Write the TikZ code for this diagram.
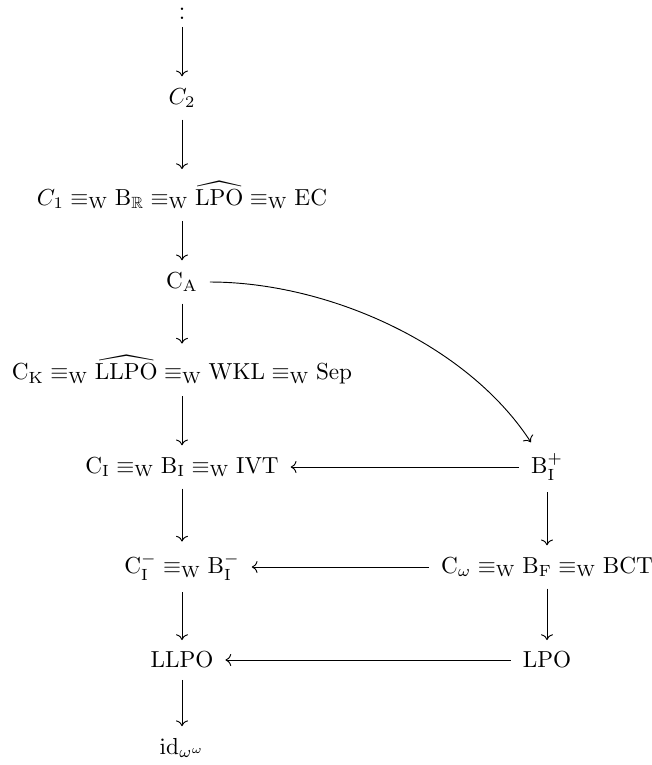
\documentclass[tikz,border=0pt]{standalone}
\usepackage{amssymb}
\usetikzlibrary{arrows.meta}
\newcommand{\eqW}{\equiv_{\mathrm{W}}}
\begin{document}
\begin{tikzpicture}[x=0.4314pt,y=-0.4314pt,
  lbl/.style={inner sep=3pt},
  arr/.style={-{Computer Modern Rightarrow},line width=0.4pt,shorten >=2pt,shorten <=2pt}]
\useasboundingbox (0,0) rectangle (652,765);
\node[lbl,inner sep=1pt] (dots) at (182,2) {$\vdots$};
\node[lbl] (c2) at (182,98) {$C_2$};
\node[lbl] (c1) at (182,195) {$C_1 \eqW \mathrm{B}_{\mathbb{R}} \eqW \widehat{\mathrm{LPO}} \eqW \mathrm{EC}$};
\node[lbl] (ca) at (182,282) {$\mathrm{C}_{\mathrm{A}}$};
\node[lbl] (ck) at (182,370) {$\mathrm{C}_{\mathrm{K}} \eqW \widehat{\mathrm{LLPO}} \eqW \mathrm{WKL} \eqW \mathrm{Sep}$};
\node[lbl] (ci) at (182,467) {$\mathrm{C}_{\mathrm{I}} \eqW \mathrm{B}_{\mathrm{I}} \eqW \mathrm{IVT}$};
\node[lbl] (cim) at (182,567) {$\mathrm{C}_{\mathrm{I}}^- \eqW \mathrm{B}_{\mathrm{I}}^-$};
\node[lbl] (llpo) at (182,660) {$\mathrm{LLPO}$};
\node[lbl] (id) at (182,748) {$\mathrm{id}_{\omega^\omega}$};
\node[lbl] (bip) at (547,467) {$\mathrm{B}_{\mathrm{I}}^+$};
\node[lbl] (cw) at (547,567) {$\mathrm{C}_\omega \eqW \mathrm{B}_{\mathrm{F}} \eqW \mathrm{BCT}$};
\node[lbl] (lpo) at (547,660) {$\mathrm{LPO}$};
\draw[arr] (dots) -- (c2);
\draw[arr] (c2) -- (c1);
\draw[arr] (c1) -- (ca);
\draw[arr] (ca) -- (ck);
\draw[arr] (ck) -- (ci);
\draw[arr] (ci) -- (cim);
\draw[arr] (cim) -- (llpo);
\draw[arr] (llpo) -- (id);
\draw[arr] (bip) -- (cw);
\draw[arr] (cw) -- (lpo);
\draw[arr] (bip) -- (ci);
\draw[arr] (cw) -- (cim);
\draw[arr] (lpo) -- (llpo);
\draw[arr] (ca) to[out=0,in=123,looseness=0.85] (bip);
\end{tikzpicture}
\end{document}
